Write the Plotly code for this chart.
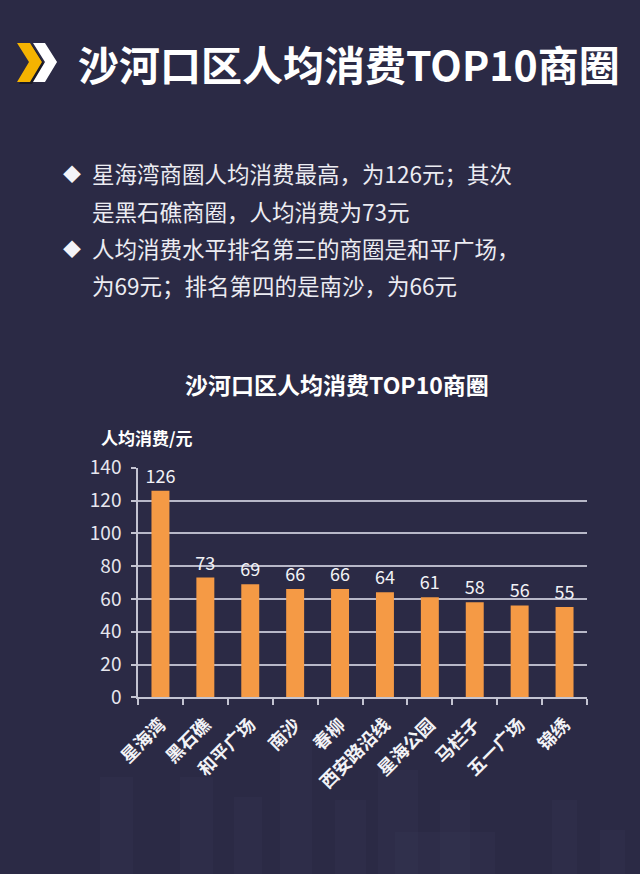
import plotly.graph_objects as go

# data
districts = ["星海湾", "黑石礁", "和平广场", "南沙", "春柳", "西安路沿线", "星海公园", "马栏子", "五一广场", "锦绣"]
spend = [126, 73, 69, 66, 66, 64, 61, 58, 56, 55]

W, H = 640, 874
BG = "#2b2a45"
FONT = "Noto Sans CJK SC"


def px(x, y):
    # pixel position -> paper coords (margins are zero)
    return x / W, 1 - y / H


def path(points):
    pts = [px(x, y) for x, y in points]
    return "M " + " L ".join(f"{a:.4f},{b:.4f}" for a, b in pts) + " Z"


fig = go.Figure(go.Bar(
    x=districts, y=spend,
    marker=dict(color="#f59a45", line=dict(width=0)),
    width=0.4,
    text=[str(v) for v in spend],
    textposition="outside",
    constraintext="none",
    textfont=dict(family=FONT, size=18, color="#f2f2f6"),
    cliponaxis=False,
))

fig.update_xaxes(
    domain=[138 / W, 587 / W],
    automargin=False,
    showline=True, linecolor="#c4c4d2", linewidth=1.5,
    ticks="outside", tickson="boundaries", ticklen=6, tickcolor="#c4c4d2", tickwidth=1.5,
    tickangle=-45, ticklabelstandoff=8,
    tickfont=dict(family=FONT, size=18, color="#f2f2f6", weight="bold"),
    showgrid=False,
)
fig.update_yaxes(
    domain=[1 - 697.3 / H, 1 - 467.7 / H],
    automargin=False,
    range=[0, 140], dtick=20,
    showline=True, linecolor="#c4c4d2", linewidth=1.5,
    gridcolor="#b8b8c8", gridwidth=1.5,
    ticks="outside", ticklen=5, tickcolor="#c4c4d2", tickwidth=1.5,
    ticklabelstandoff=6,
    tickfont=dict(family=FONT, size=19, color="#e6e6ee"),
    zeroline=False,
)

# faint skyline in the background
shapes = []
for x0, x1, y0 in [(100, 133, 777), (180, 213, 777), (234, 262, 797), (280, 312, 730),
                   (335, 366, 800), (378, 418, 770), (395, 495, 832), (440, 470, 800),
                   (552, 577, 800), (600, 625, 830)]:
    a, b = px(x0, y0)
    c, d = px(x1, H)
    shapes.append(dict(type="rect", xref="paper", yref="paper", x0=a, y0=d, x1=c, y1=b,
                       line=dict(width=0), fillcolor="#3a3a58", opacity=0.2, layer="below"))

# header chevrons
shapes += [
    dict(type="path", xref="paper", yref="paper", line=dict(width=0), fillcolor="#1a1a26",
         path=path([(19, 45), (32, 45), (44, 64), (32, 84), (19, 84), (31, 64)])),
    dict(type="path", xref="paper", yref="paper", line=dict(width=0), fillcolor="#f5b301",
         path=path([(17, 43), (30, 43), (42, 62), (30, 82), (17, 82), (29, 62)])),
    dict(type="path", xref="paper", yref="paper", line=dict(width=0), fillcolor="#ffffff",
         path=path([(33, 43), (45, 43), (57, 62), (45, 82), (33, 82), (45, 62)])),
]

annotations = []


def label(x, y, text, size, color="#ffffff", xanchor="left"):
    ax, ay = px(x, y)
    annotations.append(dict(x=ax, y=ay, xref="paper", yref="paper", text=text, showarrow=False,
                            xanchor=xanchor, yanchor="middle",
                            font=dict(family=FONT, size=size, color=color)))


label(76, 63, "<b>沙河口区人均消费TOP10商圈</b>", 41)

bullets = [
    (173, True, "星海湾商圈人均消费最高，为126元；其次"),
    (211, False, "是黑石礁商圈，人均消费为73元"),
    (248, True, "人均消费水平排名第三的商圈是和平广场，"),
    (285, False, "为69元；排名第四的是南沙，为66元"),
]
for y, dot, line in bullets:
    if dot:
        label(61, y, "◆", 18, "#f4f4f8")
    label(90, y, line, 22.5, "#ececf2")

label(337, 384, "<b>沙河口区人均消费TOP10商圈</b>", 23, xanchor="center")
label(99, 437, "<b>人均消费/元</b>", 17)

fig.update_layout(
    width=W, height=H,
    margin=dict(l=0, r=0, t=0, b=0),
    paper_bgcolor=BG, plot_bgcolor=BG,
    showlegend=False,
    bargap=0.6,
    shapes=shapes,
    annotations=annotations,
)

fig.write_html("out.html", config={"displayModeBar": False},
               post_script="document.body.style.margin='0';")
